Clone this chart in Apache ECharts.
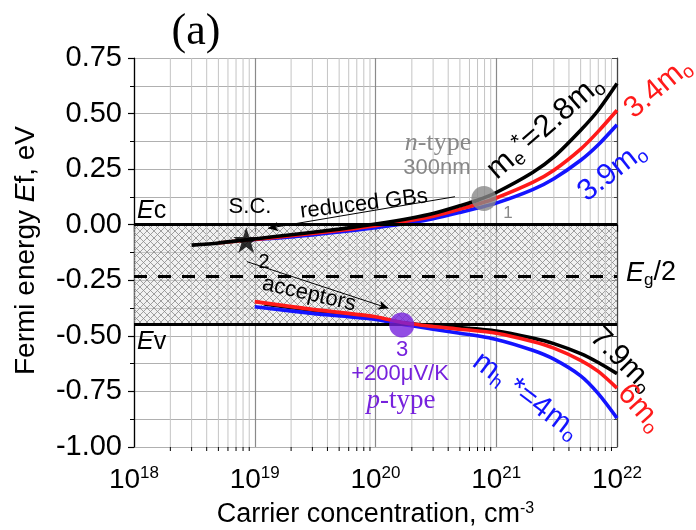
<!DOCTYPE html>
<html>
<head>
<meta charset="utf-8">
<script src="https://cdn.jsdelivr.net/npm/echarts@6/dist/echarts.min.js"></script>
<style>
  html, body { margin: 0; padding: 0; background: #fff; }
  #chart { width: 696px; height: 530px; }
</style>
</head>
<body>
<div id="chart"></div>
<script>
// axis ranges
const xMin = 1e18, xMax = 1e22;
const yMin = -1.0, yMax = 0.75;

// band edges (eV)
const Ec = 0;
const Ev = -0.45;
const EgHalf = -0.225;

// n-type branch, Fermi level vs electron concentration
const nBlack = [[3e18, -0.092], [5e18, -0.082], [8.5e18, -0.068], [1e19, -0.064], [2e19, -0.045], [5e19, -0.02],
  [1e20, 0.003], [2e20, 0.03], [3e20, 0.05], [5e20, 0.085], [7e20, 0.11], [1e21, 0.145], [2e21, 0.235],
  [3e21, 0.305], [5e21, 0.425], [7e21, 0.515], [1e22, 0.635]];
const nRed = [[5e18, -0.082], [8.5e18, -0.07], [1e19, -0.066], [2e19, -0.05], [5e19, -0.026], [1e20, -0.004],
  [2e20, 0.02], [3e20, 0.038], [5e20, 0.07], [7e20, 0.092], [1e21, 0.12], [2e21, 0.19], [3e21, 0.245],
  [5e21, 0.34], [7e21, 0.42], [1e22, 0.515]];
const nBlue = [[9e18, -0.068], [1e19, -0.066], [2e19, -0.055], [5e19, -0.033], [1e20, -0.013], [2e20, 0.01],
  [3e20, 0.027], [5e20, 0.055], [7e20, 0.075], [1e21, 0.097], [2e21, 0.158], [3e21, 0.207], [5e21, 0.29],
  [7e21, 0.36], [1e22, 0.45]];

// p-type branch, Fermi level vs hole concentration
const pBlack = [[1.2e19, -0.356], [3e19, -0.385], [1e20, -0.42], [1.65e20, -0.44], [3e20, -0.455], [5e20, -0.463],
  [1e21, -0.478], [2e21, -0.51], [3e21, -0.535], [5e21, -0.58], [7e21, -0.62], [1e22, -0.67]];
const pRed = [[1e19, -0.346], [3e19, -0.381], [1e20, -0.414], [1.65e20, -0.44], [3e20, -0.458], [5e20, -0.47],
  [1e21, -0.488], [2e21, -0.525], [3e21, -0.555], [5e21, -0.61], [7e21, -0.66], [1e22, -0.735]];
const pBlue = [[1e19, -0.369], [3e19, -0.399], [1e20, -0.426], [1.65e20, -0.448], [3e20, -0.47], [5e20, -0.488],
  [1e21, -0.516], [2e21, -0.565], [3e21, -0.605], [5e21, -0.68], [7e21, -0.76], [1e22, -0.87]];

// measured points
const pt1 = [7.9e20, 0.118];   // n-type 300nm film
const pt2 = [8.5e18, -0.069];  // single crystal
const pt3 = [1.65e20, -0.451]; // +200 uV/K p-type

// arrows: reduced GBs (1 -> 2), acceptors (2 -> 3)
const arrowGB = [[4.55e20, 0.126], [1.29e19, -0.016]];
const arrowAcc = [[8.6e18, -0.166], [1.28e20, -0.376]];

// minor log grid positions 2..9 per decade
const minorX = [];
for (let d = 18; d < 22; d++) {
  for (let k = 2; k <= 9; k++) minorX.push(k * Math.pow(10, d));
}

const SANS = 'Liberation Sans';
const SERIF = 'Liberation Serif';
const PURPLE = '#7722dd';
const RED = '#ff1a1a';
const BLUE = '#1414ff';

function hatch() {
  const c = document.createElement('canvas');
  c.width = 7;
  c.height = 7;
  const g = c.getContext('2d');
  g.fillStyle = 'rgba(225,225,225,0.45)';
  g.fillRect(0, 0, 7, 7);
  g.strokeStyle = '#8a8a8a';
  g.lineWidth = 0.8;
  g.beginPath();
  g.moveTo(0, 0); g.lineTo(7, 7);
  g.moveTo(7, 0); g.lineTo(0, 7);
  g.stroke();
  return c;
}

const chart = echarts.init(document.getElementById('chart'), null, { renderer: 'canvas' });

function txt(x, y, text, opt) {
  return {
    type: 'text',
    x: x,
    y: y,
    rotation: (opt.rot || 0) * Math.PI / 180,
    z: 100,
    style: {
      text: text,
      fill: opt.color || '#000',
      fontSize: opt.size || 24,
      fontFamily: opt.family || SANS,
      fontStyle: opt.italic ? 'italic' : 'normal',
      align: opt.align || 'center',
      verticalAlign: 'middle',
      rich: opt.rich || {}
    }
  };
}

function richFor(size, color, family) {
  return {
    i: { fontSize: size, fontFamily: family || SANS, fontStyle: 'italic', fill: color, lineHeight: size + 4 },
    sub: { fontSize: Math.round(size * 0.62), fontFamily: SANS, fill: color, verticalAlign: 'bottom', lineHeight: Math.round(size * 0.62) },
    sup: { fontSize: Math.round(size * 0.7), fontFamily: SANS, fill: color, verticalAlign: 'top', lineHeight: Math.round(size * 0.7) },
    n: { fontSize: size, fontFamily: family || SANS, fill: color, lineHeight: size + 4 }
  };
}

function curve(data, color, z) {
  return {
    type: 'line',
    data: data,
    showSymbol: false,
    smooth: 0.25,
    lineStyle: { color: color, width: 3.6 },
    z: z
  };
}

chart.setOption({
  animation: false,
  backgroundColor: '#fff',
  grid: { left: 134, right: 79, top: 58, bottom: 83, outerBoundsMode: 'none', containLabel: false },
  xAxis: {
    type: 'log',
    logBase: 10,
    min: xMin,
    max: xMax,
    splitNumber: 4,
    name: 'Carrier concentration, cm{s|-3}',
    nameLocation: 'middle',
    nameGap: 54,
    nameTextStyle: {
      fontSize: 27, fontFamily: SANS, color: '#000',
      rich: { s: { fontSize: 16, fontFamily: SANS, color: '#000', verticalAlign: 'top', lineHeight: 16 } }
    },
    axisLine: { lineStyle: { color: '#000', width: 1.2 } },
    axisTick: { show: true, length: 7, lineStyle: { color: '#000', width: 1.2 } },
    splitLine: { show: true, lineStyle: { color: '#8a8a8a', width: 1.2 } },
    axisLabel: {
      margin: 18,
      formatter: (v) => '{b|10}{s|' + Math.round(Math.log10(v)) + '}',
      rich: {
        b: { fontSize: 28, fontFamily: SANS, color: '#000', lineHeight: 30 },
        s: { fontSize: 17, fontFamily: SANS, color: '#000', verticalAlign: 'top', lineHeight: 17 }
      }
    }
  },
  yAxis: [{
    type: 'value',
    min: yMin,
    max: yMax,
    interval: 0.25,
    name: 'Fermi energy {i|E}f, eV',
    nameLocation: 'middle',
    nameGap: 94,
    nameRotate: 90,
    nameTextStyle: {
      fontSize: 28, fontFamily: SANS, color: '#000', padding: [0, 0, 0, 4],
      rich: { i: { fontSize: 28, fontFamily: SANS, fontStyle: 'italic', color: '#000' } }
    },
    axisLine: { show: true, lineStyle: { color: '#000', width: 1.2 } },
    axisTick: { show: true, length: 6, lineStyle: { color: '#000', width: 1.2 } },
    minorTick: { show: true, splitNumber: 2, length: 4, lineStyle: { color: '#000', width: 1 } },
    splitLine: { show: true, lineStyle: { color: '#b0b0b0', width: 1 } },
    minorSplitLine: { show: true, lineStyle: { color: '#b0b0b0', width: 1 } },
    axisLabel: {
      margin: 12,
      fontSize: 29,
      fontFamily: SANS,
      color: '#000',
      formatter: (v) => v.toFixed(2)
    }
  }, {
    type: 'value',
    position: 'right',
    min: yMin,
    max: yMax,
    interval: 0.25,
    axisLine: { show: true, lineStyle: { color: '#444', width: 1.2 } },
    axisTick: { show: true, inside: true, length: 5, lineStyle: { color: '#444' } },
    minorTick: { show: true, splitNumber: 2, length: 3, lineStyle: { color: '#444' } },
    axisLabel: { show: false },
    splitLine: { show: false }
  }],
  series: [
    {
      // minor log gridlines and ticks
      type: 'custom',
      z: 1,
      silent: true,
      data: minorX.map((x) => [x, yMin]),
      renderItem: (params, api) => {
        const x = api.value(0);
        const p0 = api.coord([x, yMin]);
        const p1 = api.coord([x, yMax]);
        return {
          type: 'group',
          children: [
            { type: 'line', shape: { x1: p0[0], y1: p0[1], x2: p1[0], y2: p1[1] }, style: { stroke: '#c4c4c4', lineWidth: 1 } },
            { type: 'line', shape: { x1: p0[0], y1: p0[1], x2: p0[0], y2: p0[1] + 4 }, style: { stroke: '#000', lineWidth: 1 } }
          ]
        };
      }
    },
    {
      // band gap region and level lines
      type: 'line',
      data: [],
      z: 2,
      silent: true,
      markArea: {
        silent: true,
        itemStyle: { color: { image: hatch(), repeat: 'repeat' } },
        data: [[{ yAxis: Ev }, { yAxis: Ec }]]
      },
      markLine: {
        silent: true,
        symbol: 'none',
        label: { show: false },
        data: [
          { yAxis: Ec, lineStyle: { color: '#000', width: 3, type: 'solid' } },
          { yAxis: Ev, lineStyle: { color: '#000', width: 3, type: 'solid' } },
          { yAxis: EgHalf, lineStyle: { color: '#000', width: 3, type: [13, 11] } }
        ]
      }
    },
    {
      type: 'line',
      data: [],
      z: 6,
      silent: true,
      markLine: {
        silent: true,
        symbol: ['none', 'arrow'],
        symbolSize: [7, 10],
        label: { show: false },
        lineStyle: { color: '#000', width: 1, type: 'solid' },
        data: [
          [{ coord: arrowGB[0] }, { coord: arrowGB[1] }],
          [{ coord: arrowAcc[0] }, { coord: arrowAcc[1] }]
        ]
      }
    },
    curve(nBlue, BLUE, 3),
    curve(nRed, RED, 4),
    curve(nBlack, '#000', 5),
    curve(pBlack, '#000', 3),
    curve(pBlue, BLUE, 4),
    curve(pRed, RED, 5),
    {
      type: 'scatter',
      z: 10,
      data: [
        { value: pt1, symbol: 'circle', symbolSize: 25, itemStyle: { color: '#888' } },
        { value: pt2, symbol: 'path://M50,0 L61,35 L98,35 L68,57 L79,91 L50,70 L21,91 L32,57 L2,35 L39,35 Z', symbolSize: 26, itemStyle: { color: '#000' } },
        { value: pt3, symbol: 'circle', symbolSize: 25, itemStyle: { color: PURPLE } }
      ]
    }
  ],
  graphic: [
    txt(196, 32, '(a)', { size: 44, family: SERIF }),
    txt(137, 211, '{i|E}{n|c}', { align: 'left', rich: richFor(25, '#000') }),
    txt(137, 342, '{i|E}{n|v}', { align: 'left', rich: richFor(25, '#000') }),
    txt(626, 273, '{i|E}{sub|g}{n|/2}', { align: 'left', rich: richFor(27, '#000') }),
    txt(250, 207, 'S.C.', { size: 22 }),
    txt(364, 204, 'reduced GBs', { size: 22, rot: 7 }),
    txt(438, 143, '{i|n}{n|-type}', { rich: richFor(26, '#888', SERIF) }),
    txt(437, 168, '300nm', { size: 22, color: '#888' }),
    txt(508, 213, '1', { size: 17, color: '#888' }),
    txt(264, 262, '2', { size: 20 }),
    txt(309, 294, 'acceptors', { size: 22, rot: -13 }),
    txt(402, 350, '3', { size: 22, color: PURPLE }),
    txt(400, 374, '+200\u03bcV/K', { size: 22, color: PURPLE }),
    txt(401, 401, '{i|p}{n|-type}', { rich: richFor(27, PURPLE, SERIF) }),
    txt(545, 127, '{n|m}{sub|e}{sup|*}{n|=2.8m}{sub|o}', { rot: 41, rich: richFor(31, '#000') }),
    txt(658, 88, '{n|3.4m}{sub|o}', { rot: 40, rich: richFor(30, RED) }),
    txt(612, 172, '{n|3.9m}{sub|o}', { rot: 38, rich: richFor(30, BLUE) }),
    txt(622, 360, '{n|7.9m}{sub|o}', { rot: -45, rich: richFor(30, '#000') }),
    txt(640, 408, '{n|6m}{sub|o}', { rot: -48, rich: richFor(30, RED) }),
    txt(526, 396, '{n|m}{sub|h}{n| *=4m}{sub|o}', { rot: -37, rich: richFor(30, BLUE) })
  ]
});
</script>
</body>
</html>
